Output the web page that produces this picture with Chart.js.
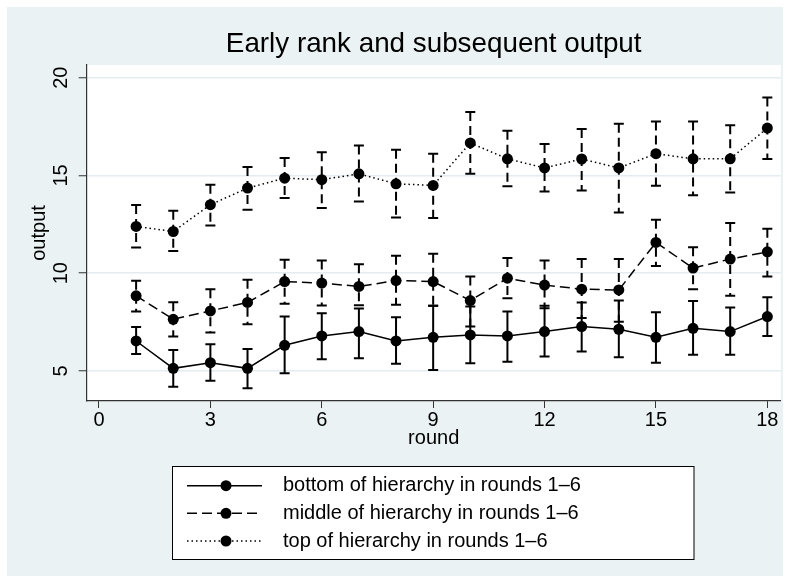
<!DOCTYPE html>
<html>
<head>
<meta charset="utf-8">
<script src="https://cdn.jsdelivr.net/npm/chart.js@4"></script>
<style>
html,body{margin:0;padding:0;background:#fff;}
canvas{display:block;}
</style>
</head>
<body>
<canvas id="c" width="790" height="583"></canvas>
<script>
const rounds = [1,2,3,4,5,6,7,8,9,10,11,12,13,14,15,16,17,18];
const xTicks = [0,3,6,9,12,15,18];
const yTicks = [5,10,15,20];

const bottomMean = [6.53,5.13,5.42,5.13,6.31,6.79,7.01,6.53,6.72,6.84,6.79,7.01,7.27,7.13,6.72,7.18,7.01,7.78];
const bottomHi   = [7.24,6.07,6.36,6.12,7.78,7.95,8.19,7.75,8.33,8.29,8.04,8.33,8.50,8.60,8.00,8.58,8.24,8.77];
const bottomLo   = [5.87,4.19,4.49,4.11,4.88,5.60,5.65,5.36,5.05,5.39,5.47,5.73,5.99,5.70,5.42,5.82,5.82,6.79];

const middleMean = [8.84,7.64,8.07,8.50,9.57,9.49,9.32,9.62,9.57,8.60,9.74,9.39,9.18,9.14,11.57,10.26,10.72,11.09];
const middleHi   = [9.61,8.51,9.18,9.66,10.68,10.65,10.46,10.89,10.99,9.83,10.77,10.65,10.72,10.72,12.73,11.33,12.56,12.27];
const middleLo   = [8.04,6.76,6.96,7.39,8.43,8.34,8.36,8.38,8.33,7.27,8.72,8.21,7.70,7.52,10.37,9.18,8.84,9.83];

const topMean = [12.39,12.13,13.50,14.35,14.86,14.78,15.08,14.57,14.49,16.66,15.85,15.38,15.84,15.38,16.11,15.85,15.85,17.42];
const topHi   = [13.48,13.19,14.52,15.43,15.89,16.18,16.53,16.31,16.11,18.24,17.29,16.61,17.37,17.64,17.76,17.76,17.56,18.99];
const topLo   = [11.31,11.13,12.44,13.24,13.84,13.33,13.67,12.85,12.82,15.08,14.44,14.18,14.23,13.10,14.47,13.98,14.13,15.84];

const seriesNames = ['bottom of hierarchy in rounds 1\u20136','middle of hierarchy in rounds 1\u20136','top of hierarchy in rounds 1\u20136'];

const FONT = '"Liberation Sans", Arial, Helvetica, sans-serif';
Chart.defaults.font.family = FONT;
Chart.defaults.color = '#000';

const lineDashes = [[], [10,5], [1.5,3]];
const barDashes = [[], [9,5], [9,5]];

function pts(m){ return rounds.map((r,i)=>({x:r,y:m[i]})); }

const errData = [
  {lo: bottomLo, hi: bottomHi},
  {lo: middleLo, hi: middleHi},
  {lo: topLo, hi: topHi}
];

const bgPlugin = {
  id: 'bg',
  beforeDraw(chart){
    const ctx = chart.ctx, a = chart.chartArea;
    ctx.save();
    ctx.fillStyle = '#ffffff';
    ctx.fillRect(0,0,chart.width,chart.height);
    ctx.fillStyle = '#eaf2f3';
    ctx.fillRect(7,7,chart.width-14,chart.height-14);
    ctx.fillStyle = '#ffffff';
    ctx.fillRect(a.left, a.top, a.right-a.left, a.bottom-a.top);
    ctx.restore();
  }
};

const errPlugin = {
  id: 'errbars',
  beforeDatasetsDraw(chart){
    const ctx = chart.ctx, xs = chart.scales.x, ys = chart.scales.y;
    ctx.save();
    errData.forEach((e, si)=>{
      rounds.forEach((r,i)=>{
        const px = xs.getPixelForValue(r);
        const y1 = ys.getPixelForValue(e.hi[i]);
        const y2 = ys.getPixelForValue(e.lo[i]);
        ctx.strokeStyle = '#000';
        ctx.lineWidth = 2;
        ctx.setLineDash(barDashes[si]);
        ctx.beginPath();
        ctx.moveTo(px, y1); ctx.lineTo(px, y2);
        ctx.stroke();
        ctx.setLineDash([]);
        ctx.beginPath();
        ctx.moveTo(px-5, y1); ctx.lineTo(px+5, y1);
        ctx.moveTo(px-5, y2); ctx.lineTo(px+5, y2);
        ctx.stroke();
      });
    });
    ctx.restore();
  }
};

const legendPlugin = {
  id: 'boxlegend',
  afterDraw(chart){
    const ctx = chart.ctx;
    const bx = 172.5, by = 466.5, bw = 521.5, bh = 93;
    ctx.save();
    ctx.fillStyle = '#fff';
    ctx.fillRect(bx, by, bw, bh);
    ctx.strokeStyle = '#000';
    ctx.lineWidth = 1;
    ctx.strokeRect(bx, by, bw, bh);
    const rows = [485.7, 513.3, 541];
    rows.forEach((ry, si)=>{
      ctx.strokeStyle = '#000';
      ctx.lineWidth = 1.5;
      ctx.setLineDash(lineDashes[si]);
      ctx.beginPath();
      ctx.moveTo(187, ry); ctx.lineTo(262, ry);
      ctx.stroke();
      ctx.setLineDash([]);
      ctx.fillStyle = '#000';
      ctx.beginPath();
      ctx.arc(226, ry, 5.5, 0, Math.PI*2);
      ctx.fill();
      ctx.font = '20px ' + FONT;
      ctx.textBaseline = 'middle';
      ctx.textAlign = 'left';
      ctx.fillText(seriesNames[si], 283, ry);
    });
    ctx.restore();
  }
};

const datasets = [bottomMean, middleMean, topMean].map((m, si)=>({
  label: seriesNames[si],
  data: pts(m),
  borderColor: '#000',
  backgroundColor: '#000',
  borderWidth: 1.5,
  borderDash: lineDashes[si],
  pointRadius: 5.5,
  pointBorderWidth: 0,
  pointBackgroundColor: '#000',
  tension: 0,
  fill: false
}));

new Chart(document.getElementById('c'), {
  type: 'line',
  data: { datasets },
  plugins: [bgPlugin, errPlugin, legendPlugin],
  options: {
    responsive: false,
    animation: false,
    layout: { padding: { left: 0, right: 9.3, top: 0, bottom: 122 } },
    plugins: {
      legend: { display: false },
      tooltip: { enabled: false },
      title: {
        display: true,
        text: 'Early rank and subsequent output',
        fullSize: false,
        color: '#000',
        font: { size: 27.8, weight: 'normal', family: FONT },
        padding: { top: 27.6, bottom: 4.0 }
      }
    },
    scales: {
      x: {
        type: 'linear',
        min: -0.331, max: 18.36,
        afterBuildTicks(s){ s.ticks = xTicks.map(v=>({value:v})); },
        afterFit(s){ s.height = 60; },
        grid: { drawOnChartArea: false, drawTicks: true, tickLength: 7, tickColor: '#333', tickWidth: 1 },
        border: { display: true, color: '#333', width: 1.2 },
        ticks: { font: { size: 20 }, color: '#000', padding: 0, maxRotation: 0, autoSkip: false },
        title: { display: true, text: 'round', font: { size: 20 }, color: '#000', padding: { top: 0, bottom: 10.6 } }
      },
      y: {
        type: 'linear',
        min: 3.46, max: 20.65,
        afterBuildTicks(s){ s.ticks = yTicks.map(v=>({value:v})); },
        afterFit(s){ s.width = 86.7; },
        grid: { color: '#e3ecef', lineWidth: 1.5, drawTicks: true, tickLength: 8, tickColor: '#333', tickWidth: 1 },
        border: { display: true, color: '#333', width: 1.2 },
        ticks: { font: { size: 20 }, color: '#000', padding: 5.6, minRotation: 90, maxRotation: 90, crossAlign: 'center', autoSkip: false },
        title: { display: true, text: 'output', font: { size: 20 }, color: '#000', padding: { top: 27.5, bottom: 0 } }
      }
    }
  }
});
</script>
</body>
</html>
